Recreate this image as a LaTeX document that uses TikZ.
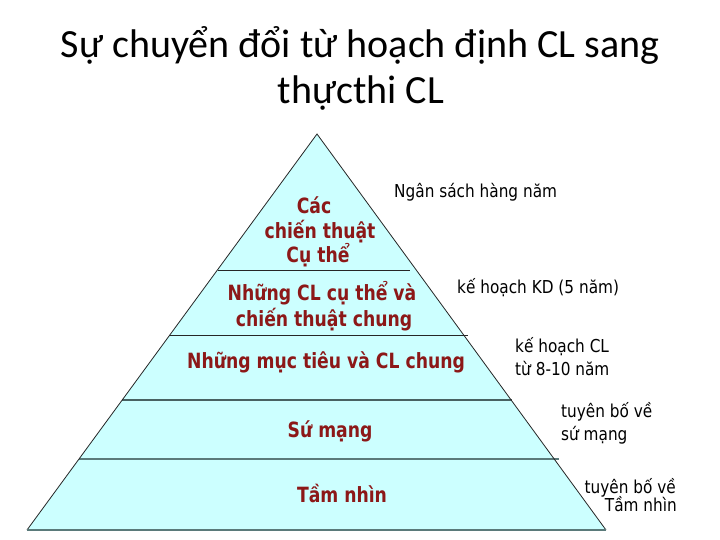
\documentclass[tikz,border=0pt]{standalone}
\usepackage{fontspec}
\setmainfont{Carlito}
\newfontfamily\labfont[FakeStretch=0.82]{DejaVu Sans}
\newfontfamily\notefont[FakeStretch=0.86]{DejaVu Sans}
\definecolor{pyrfill}{RGB}{204,255,255}
\definecolor{lvltext}{RGB}{140,24,24}
\definecolor{grayline}{RGB}{90,122,122}
\begin{document}
\begin{tikzpicture}[x=1pt,y=-1pt,
  lvl/.style={font=\labfont\bfseries\fontsize{21}{25}\selectfont, text=lvltext, anchor=base, inner sep=0pt},
  note/.style={font=\notefont\fontsize{17.8}{21}\selectfont, anchor=base west, inner sep=0pt},
  noter/.style={font=\notefont\fontsize{17.8}{21}\selectfont, anchor=base east, inner sep=0pt},
  ttl/.style={font=\fontsize{40}{46}\selectfont, anchor=base, inner sep=0pt},
  thinsep/.style={draw=black!85, line width=0.9pt},
  thicksep/.style={draw=grayline, line width=1.8pt}]
\useasboundingbox (0,0) rectangle (720,540);
% title
\node[ttl] (t1) at (360,58) {Sự chuyển đổi từ hoạch định CL sang};
\node[ttl] (t2) at (361,104) {thựcthi CL};
% pyramid
\coordinate (apex) at (317,134);
\coordinate (bl) at (27,530);
\coordinate (br) at (606,530);
\fill[pyrfill] (apex) -- (bl) -- (br) -- cycle;
\coordinate (s1l) at (218,270); \coordinate (s1r) at (410,270);
\coordinate (s2l) at (170,335); \coordinate (s2r) at (468,335);
\coordinate (s3l) at (122,400); \coordinate (s3r) at (512,400);
\coordinate (s4l) at (79,459);  \coordinate (s4r) at (559,459);
\draw[thinsep] (s1l) -- (s1r);
\draw[thinsep] (s2l) -- (s2r);
\draw[draw=grayline!80!black, line width=1.3pt] (s3l) -- (s3r);
\draw[thicksep] (s4l) -- (s4r);
\draw[black!85, line width=0.8pt] (bl) -- (apex) -- (br);
\draw[grayline, line width=2.2pt] (bl) -- (br);
% level texts
\node[lvl] (a1) at (314,214) {Các};
\node[lvl] (a2) at (320,238) {chiến thuật};
\node[lvl] (a3) at (318,262) {Cụ thể};
\node[lvl] (b1) at (322,300) {Những CL cụ thể và};
\node[lvl] (b2) at (324,326) {chiến thuật chung};
\node[lvl] (c1) at (326,368) {Những mục tiêu và CL chung};
\node[lvl] (d1) at (330,437) {Sứ mạng};
\node[lvl] (e1) at (342,502) {Tầm nhìn};
% side notes
\node[note] (n1) at (394,197) {Ngân sách hàng năm};
\node[note] (n2) at (457,293) {kế hoạch KD (5 năm)};
\node[note] (n3) at (515,352) {kế hoạch CL};
\node[note] (n4) at (515,375) {từ 8-10 năm};
\node[note] (n5) at (561,417) {tuyên bố về};
\node[note] (n6) at (561,440) {sứ mạng};
\node[noter] (n7) at (676,493) {tuyên bố về};
\node[noter] (n8) at (677,511) {Tầm nhìn};
\end{tikzpicture}
\end{document}
